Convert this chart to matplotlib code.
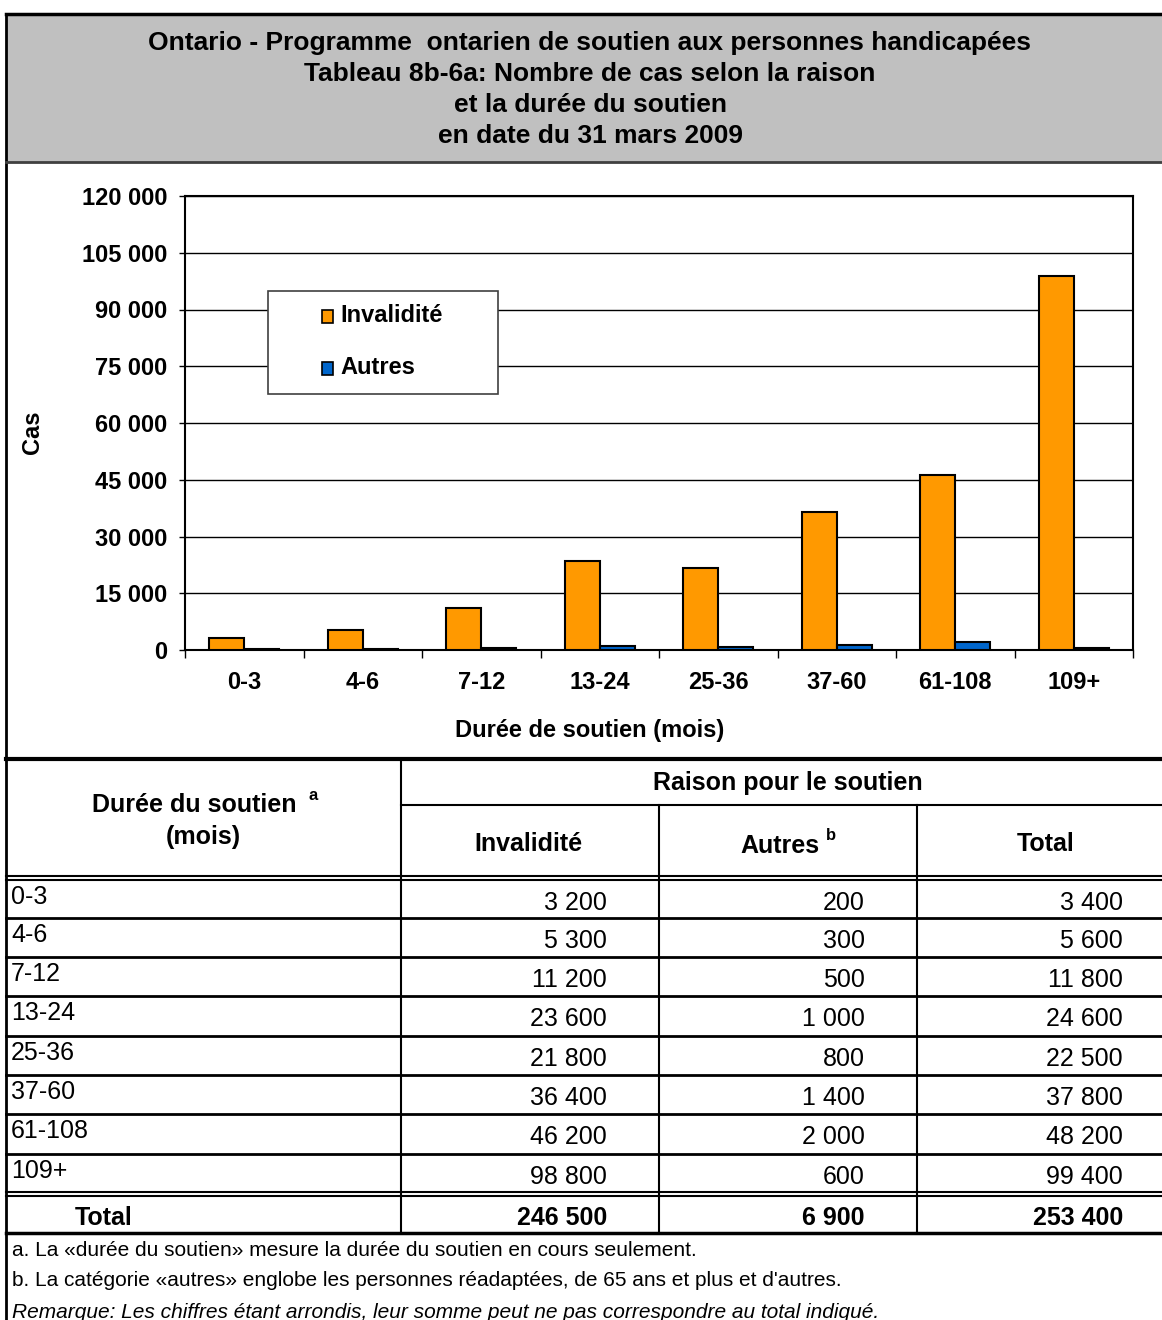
import matplotlib
matplotlib.use("Agg")
import matplotlib.pyplot as plt
import numpy as np
from matplotlib.patches import Rectangle
from matplotlib.ticker import FuncFormatter, MultipleLocator

plt.rcParams['font.family'] = ['Liberation Sans', 'DejaVu Sans']

# data
durees = ['0-3', '4-6', '7-12', '13-24', '25-36', '37-60', '61-108', '109+']
invalidite = [3200, 5300, 11200, 23600, 21800, 36400, 46200, 98800]
autres = [200, 300, 500, 1000, 800, 1400, 2000, 600]
totaux = [3400, 5600, 11800, 24600, 22500, 37800, 48200, 99400]
total_invalidite = 246500
total_autres = 6900
total_general = 253400

titre = ["Ontario - Programme  ontarien de soutien aux personnes handicapées",
         "Tableau 8b-6a: Nombre de cas selon la raison",
         "et la durée du soutien",
         "en date du 31 mars 2009"]
notes = ["a. La «durée du soutien» mesure la durée du soutien en cours seulement.",
         "b. La catégorie «autres» englobe les personnes réadaptées, de 65 ans et plus et d'autres.",
         "Remarque: Les chiffres étant arrondis, leur somme peut ne pas correspondre au total indiqué."]

ORANGE = '#FF9900'
BLEU = '#0066CC'
W, H = 1162, 1320


def fmt(v):
    return f"{int(v):,}".replace(",", " ")


fig = plt.figure(figsize=(W / 100, H / 100), dpi=100)

# background layer in pixel coordinates
bg = fig.add_axes([0, 0, 1, 1], zorder=0)
bg.set_xlim(0, W)
bg.set_ylim(H, 0)
bg.axis('off')
bg.add_patch(Rectangle((6, 14), W, 148, facecolor='#C0C0C0', edgecolor='none'))
bg.plot([6, W], [14, 14], color='black', lw=2.5)
bg.plot([6, 6], [14, H], color='black', lw=2)
bg.plot([6, W], [162, 162], color='#404040', lw=2)
for i, ligne in enumerate(titre):
    bg.text(590, 43 + i * 31, ligne, ha='center', va='center',
            fontsize=19, fontweight='bold')

# chart
ax = fig.add_axes([185 / W, (H - 650) / H, 948 / W, 454 / H], zorder=1)
x = np.arange(len(durees))
bw = 0.295
ax.bar(x - bw / 2, invalidite, bw, color=ORANGE, edgecolor='black', lw=1.5, zorder=3)
ax.bar(x + bw / 2, autres, bw, color=BLEU, edgecolor='black', lw=1.5, zorder=3)
ax.set_xlim(-0.5, len(durees) - 0.5)
ax.set_ylim(0, 120000)
ax.yaxis.set_major_locator(MultipleLocator(15000))
ax.yaxis.set_major_formatter(FuncFormatter(lambda v, p: fmt(v)))
ax.grid(axis='y', color='black', lw=1, zorder=0)
ax.set_xticks(np.arange(-0.5, len(durees)))
ax.set_xticklabels([])
ax.set_xticks(x, minor=True)
ax.set_xticklabels(durees, minor=True)
ax.tick_params(axis='x', which='major', length=6, width=1, direction='out')
ax.tick_params(axis='x', which='minor', length=0, pad=15, labelsize=17)
ax.tick_params(axis='y', length=4.5, width=1, pad=8, labelsize=17)
for lab in ax.get_xticklabels(minor=True) + ax.get_yticklabels():
    lab.set_fontweight('bold')
for s in ax.spines.values():
    s.set_linewidth(1.5)
    s.set_color('black')

# foreground layer: legend, labels, table
fg = fig.add_axes([0, 0, 1, 1], zorder=2)
fg.set_xlim(0, W)
fg.set_ylim(H, 0)
fg.axis('off')
fg.patch.set_alpha(0)

fg.text(32, 432, 'Cas', rotation=90, ha='center', va='center',
        fontsize=17, fontweight='bold')
fg.text(590, 731, 'Durée de soutien (mois)', ha='center', va='center',
        fontsize=17, fontweight='bold')

fg.add_patch(Rectangle((268, 291), 230, 103, facecolor='white',
                       edgecolor='#404040', lw=1.2))
for yy, lab, c in [(316, 'Invalidité', ORANGE), (368, 'Autres', BLEU)]:
    fg.add_patch(Rectangle((322, yy - 6), 11, 13, facecolor=c, edgecolor='black', lw=1.2))
    fg.text(340, yy, lab, ha='left', va='center', fontsize=17, fontweight='bold')

# table grid
fg.plot([6, W], [759, 759], color='black', lw=3)
fg.plot([401, W], [805, 805], color='black', lw=1.5)
fg.plot([401, 401], [760, 1233], color='black', lw=1.5)
for xc in (659, 917):
    fg.plot([xc, xc], [805, 1233], color='black', lw=1.5)
for yy in (876, 880, 1192, 1196):
    fg.plot([6, W], [yy, yy], color='black', lw=1.5)
row_tops = [880, 918, 957, 996, 1036, 1075, 1114, 1154]
for yy in row_tops[1:]:
    fg.plot([6, W], [yy, yy], color='black', lw=2)
fg.plot([6, W], [1233, 1233], color='black', lw=2.5)

# headers
fg.text(194, 805, 'Durée du soutien', ha='center', va='center', fontsize=18, fontweight='bold')
fg.text(313, 795, 'a', ha='center', va='center', fontsize=12, fontweight='bold')
fg.text(203, 837, '(mois)', ha='center', va='center', fontsize=18, fontweight='bold')
fg.text(788, 783, 'Raison pour le soutien', ha='center', va='center', fontsize=18, fontweight='bold')
fg.text(528, 844, 'Invalidité', ha='center', va='center', fontsize=18, fontweight='bold')
fg.text(780, 846, 'Autres', ha='center', va='center', fontsize=18, fontweight='bold')
fg.text(831, 836, 'b', ha='center', va='center', fontsize=12, fontweight='bold')
fg.text(1046, 844, 'Total', ha='center', va='center', fontsize=18, fontweight='bold')

# rows
for top, d, a, b, t in zip(row_tops, durees, invalidite, autres, totaux):
    fg.text(11, top + 17, d, ha='left', va='center', fontsize=18)
    for xr, v in ((607, a), (865, b), (1123, t)):
        fg.text(xr, top + 23, fmt(v), ha='right', va='center', fontsize=18)

fg.text(104, 1218, 'Total', ha='center', va='center', fontsize=18, fontweight='bold')
for xr, v in ((607, total_invalidite), (865, total_autres), (1123, total_general)):
    fg.text(xr, 1218, fmt(v), ha='right', va='center', fontsize=18, fontweight='bold')

# footnotes
for i, n in enumerate(notes):
    fg.text(12, 1250 + i * 31, n, ha='left', va='center', fontsize=15,
            style='italic' if i == 2 else 'normal')

fig.savefig('out.png', dpi=100)
